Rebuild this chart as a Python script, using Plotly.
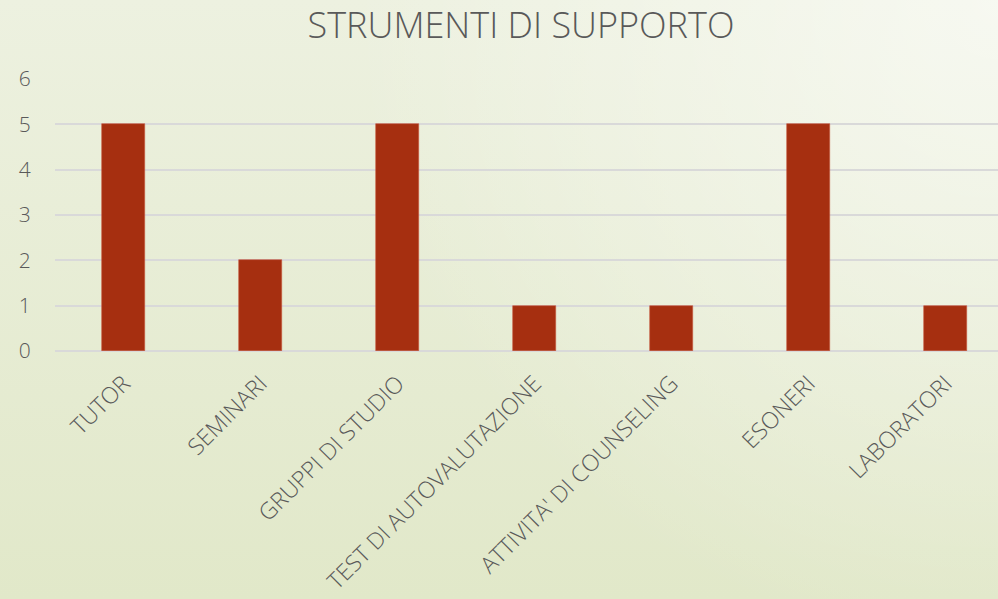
import base64
import plotly.graph_objects as go

categories = ["TUTOR", "SEMINARI", "GRUPPI DI STUDIO", "TEST DI AUTOVALUTAZIONE",
              "ATTIVITA' DI COUNSELING", "ESONERI", "LABORATORI"]
values = [5, 2, 5, 1, 1, 5, 1]
y_ticks = [0, 1, 2, 3, 4, 5, 6]
title_text = "STRUMENTI DI SUPPORTO"

W, H = 998, 599
L, R, T, B = 55, 0, 79, 248
pw, ph = W - L - R, H - T - B
cat_px = 137.0

svg = f'''<svg xmlns="http://www.w3.org/2000/svg" width="{W}" height="{H}" viewBox="0 0 {W} {H}" preserveAspectRatio="none">
<defs>
<linearGradient id="g" x1="0" y1="0" x2="0" y2="1">
<stop offset="0" stop-color="#EDF1E0"/>
<stop offset="1" stop-color="#E1E8C9"/>
</linearGradient>
<radialGradient id="r" cx="{W}" cy="0" r="650" gradientUnits="userSpaceOnUse">
<stop offset="0" stop-color="#FFFFFF" stop-opacity="0.55"/>
<stop offset="1" stop-color="#FFFFFF" stop-opacity="0"/>
</radialGradient>
</defs>
<rect width="{W}" height="{H}" fill="url(#g)"/>
<rect width="{W}" height="{H}" fill="url(#r)"/>
</svg>'''
src = "data:image/svg+xml;base64," + base64.b64encode(svg.encode()).decode()

font = "'Open Sans', Lato, sans-serif"

fig = go.Figure(go.Bar(
    x=categories, y=values,
    marker=dict(color="#A62F10", line=dict(color="#C4563A", width=0.6)),
    width=43 / cat_px,
))

fig.update_layout(
    width=W, height=H,
    margin=dict(l=L, r=R, t=T, b=B),
    paper_bgcolor="#E8EDD6",
    plot_bgcolor="rgba(0,0,0,0)",
    showlegend=False,
    title=dict(text=title_text, x=521 / W, xref="container", xanchor="center",
               y=1 - 25 / H, yref="container", yanchor="middle",
               font=dict(family=font, size=36, color="#595959", weight=300)),
    images=[dict(source=src, xref="paper", yref="paper",
                 x=-L / pw, y=(H - B) / ph, sizex=W / pw, sizey=H / ph,
                 xanchor="left", yanchor="top", sizing="stretch", layer="below")],
    xaxis=dict(range=[-0.5, -0.5 + pw / cat_px], tickangle=-45,
               tickfont=dict(family=font, size=23, color="#595959", weight=300),
               ticks="outside", ticklen=9, tickcolor="rgba(0,0,0,0)",
               showgrid=False, showline=False, zeroline=False, fixedrange=True),
    yaxis=dict(range=[0, 6], tickvals=y_ticks,
               tickfont=dict(family=font, size=21, color="#595959", weight=300),
               ticks="outside", ticklen=19, tickcolor="rgba(0,0,0,0)",
               showgrid=True, gridcolor="#D9D9D9", gridwidth=1.5,
               zeroline=True, zerolinecolor="#D9D9D9", zerolinewidth=1.5,
               showline=False),
    bargap=0,
)

fig.write_html("out.html", config={"displayModeBar": False},
               post_script="document.body.style.margin='0';document.body.style.overflow='hidden';")
